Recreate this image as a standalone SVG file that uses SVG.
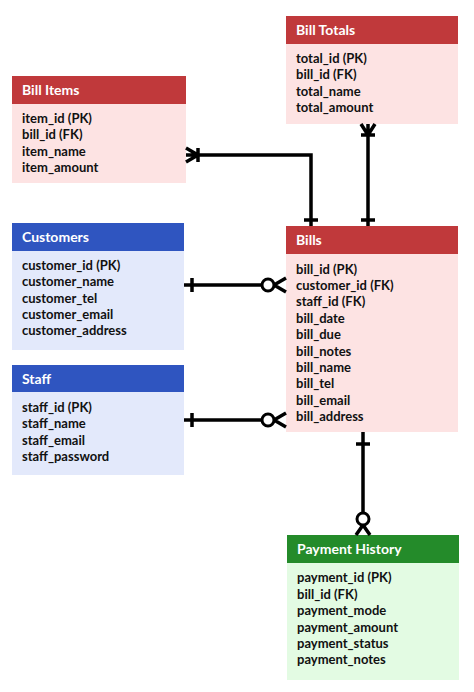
<svg xmlns="http://www.w3.org/2000/svg" width="474" height="692" viewBox="0 0 474 692">
<style>
text{font-family:Lato,"Liberation Sans",sans-serif;font-weight:bold;font-size:13px;fill:#111}
.h{fill:#fff;font-size:14px}
.rh{fill:#c0393b}.rb{fill:#fde3e3}
.bh{fill:#2f55c0}.bb{fill:#e3e9fb}
.gh{fill:#248b2a}.gb{fill:#e3fbe3}
.c{stroke:#000;stroke-width:3.5;fill:none}
.o{stroke:#000;stroke-width:3;fill:#fff}
</style>
<rect width="474" height="692" fill="#fff"/>
<g id="bill_totals">
<rect class="rb" x="286" y="16" width="172" height="108"/><rect class="rh" x="286" y="16" width="172" height="28"/>
<text class="h" x="296" y="35">Bill Totals</text>
<text x="296" y="63">total_id (PK)</text><text x="296" y="79">bill_id (FK)</text><text x="296" y="96">total_name</text><text x="296" y="112">total_amount</text>
</g>
<g id="bill_items">
<rect class="rb" x="12" y="76" width="174" height="107"/><rect class="rh" x="12" y="76" width="174" height="28"/>
<text class="h" x="22" y="95">Bill Items</text>
<text x="22" y="123">item_id (PK)</text><text x="22" y="139">bill_id (FK)</text><text x="22" y="156">item_name</text><text x="22" y="172">item_amount</text>
</g>
<g id="customers">
<rect class="bb" x="12" y="223" width="172" height="127"/><rect class="bh" x="12" y="223" width="172" height="28"/>
<text class="h" x="22" y="242">Customers</text>
<text x="22" y="270">customer_id (PK)</text><text x="22" y="286">customer_name</text><text x="22" y="303">customer_tel</text><text x="22" y="319">customer_email</text><text x="22" y="335">customer_address</text>
</g>
<g id="staff">
<rect class="bb" x="12" y="365" width="172" height="110"/><rect class="bh" x="12" y="365" width="172" height="27"/>
<text class="h" x="22" y="384">Staff</text>
<text x="22" y="412">staff_id (PK)</text><text x="22" y="428">staff_name</text><text x="22" y="445">staff_email</text><text x="22" y="461">staff_password</text>
</g>
<g id="bills">
<rect class="rb" x="286" y="226" width="172" height="206"/><rect class="rh" x="286" y="226" width="172" height="28"/>
<text class="h" x="296" y="245">Bills</text>
<text x="296" y="274">bill_id (PK)</text><text x="296" y="290">customer_id (FK)</text><text x="296" y="306">staff_id (FK)</text><text x="296" y="323">bill_date</text><text x="296" y="339">bill_due</text><text x="296" y="356">bill_notes</text><text x="296" y="372">bill_name</text><text x="296" y="388">bill_tel</text><text x="296" y="405">bill_email</text><text x="296" y="421">bill_address</text>
</g>
<g id="payment_history">
<rect class="gb" x="287" y="535" width="172" height="145"/><rect class="gh" x="287" y="535" width="172" height="28"/>
<text class="h" x="297" y="554">Payment History</text>
<text x="297" y="582">payment_id (PK)</text><text x="297" y="599">bill_id (FK)</text><text x="297" y="615">payment_mode</text><text x="297" y="632">payment_amount</text><text x="297" y="648">payment_status</text><text x="297" y="664">payment_notes</text>
</g>
<g id="connectors">
<path class="c" d="M186 155H311V226M198 148V162M186 148L198 155L186 162M304 220H318"/>
<path class="c" d="M368 124V226M361 135H375M361 124L368 135L375 124M361 220H375"/>
<path class="c" d="M184 285H268M192 278V292M274 285L286 278M274 285L286 292"/>
<circle class="o" cx="268" cy="285" r="6"/>
<path class="c" d="M184 420H268M192 413V427M274 420L286 413M274 420L286 427"/>
<circle class="o" cx="268" cy="420" r="6"/>
<path class="c" d="M363 432V513M356 444H370M363 525L356 535M363 525L370 535"/>
<circle class="o" cx="363" cy="519" r="6"/>
</g>
</svg>
